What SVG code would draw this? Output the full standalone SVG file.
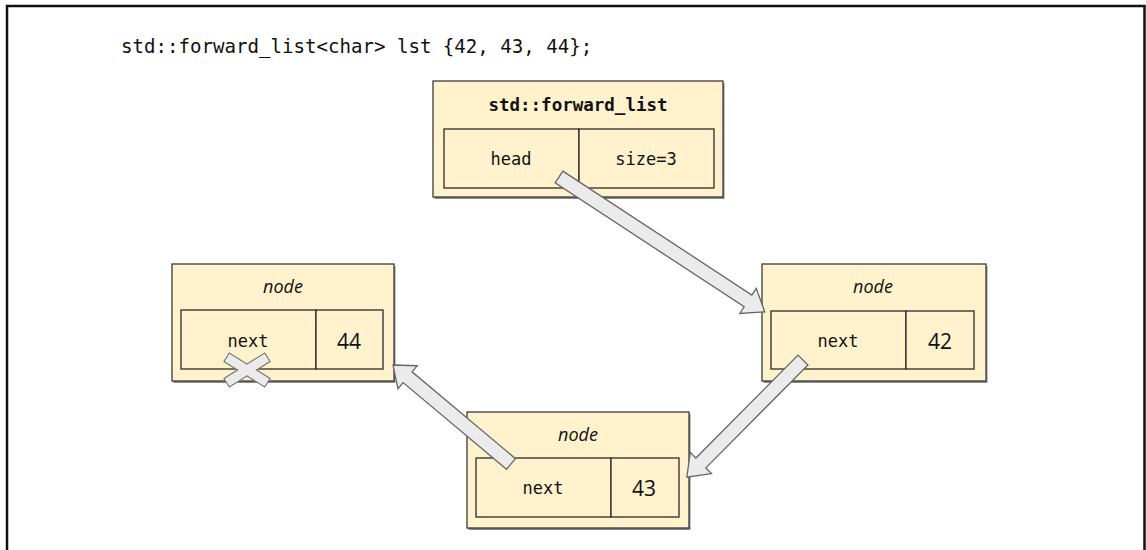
<svg xmlns="http://www.w3.org/2000/svg" width="1146" height="550" viewBox="0 0 1146 550">
<style>
.box{fill:#fff2cc;stroke:#3a3a3a;stroke-width:1.3}
.shadow{fill:#8a8a8a;stroke:none}
.cell{fill:#fff2cc;stroke:#2a2a2a;stroke-width:1.3}
.mono{font-family:"DejaVu Sans Mono","Liberation Mono",monospace;font-size:17px;fill:#111;text-anchor:middle}
.title{font-family:"DejaVu Sans Mono","Liberation Mono",monospace;font-size:17.5px;font-weight:bold;fill:#111;text-anchor:middle}
.ital{font-family:"Open Sans","Noto Sans",sans-serif;font-style:italic;font-size:18px;fill:#111;text-anchor:middle}
.num{font-family:"Open Sans","Noto Sans",sans-serif;font-size:21px;fill:#111;text-anchor:middle}
.arrow{fill:#ebebeb;stroke:#666;stroke-width:1.3;stroke-linejoin:miter}
.xbar{fill:#ebebeb;stroke:#777;stroke-width:1.3}
.xfill{fill:#ebebeb;stroke:none}
</style>
<rect x="0" y="0" width="1146" height="550" fill="#fff"/>
<path d="M7,550 V6 H1144.5 V550" fill="none" stroke="#111" stroke-width="2.5"/>
<text x="121" y="53" font-family="DejaVu Sans Mono,Liberation Mono,monospace" font-size="19.1" fill="#111">std::forward_list&lt;char&gt; lst {42, 43, 44};</text>

<g id="forward_list">
<rect class="shadow" x="434.5" y="83" width="290" height="116"/>
<rect class="box" x="433" y="81" width="290" height="116"/>
<rect class="cell" x="444" y="129" width="135" height="59"/>
<rect class="cell" x="579" y="129" width="135" height="59"/>
<text class="title" x="578" y="111">std::forward_list</text>
<text class="mono" x="511" y="165">head</text>
<text class="mono" x="646" y="165">size=3</text>
</g>

<g id="node44">
<rect class="shadow" x="173.5" y="266" width="222" height="117"/>
<rect class="box" x="172" y="264" width="222" height="117"/>
<rect class="cell" x="181" y="310" width="135" height="59"/>
<rect class="cell" x="316" y="310" width="67" height="59"/>
<text class="ital" x="283" y="293">node</text>
<text class="mono" x="248" y="347">next</text>
<text class="num" x="349" y="349">44</text>
</g>

<g id="node42">
<rect class="shadow" x="763.5" y="266" width="224" height="117"/>
<rect class="box" x="762" y="264" width="224" height="117"/>
<rect class="cell" x="771" y="311" width="135" height="58"/>
<rect class="cell" x="906" y="311" width="68" height="58"/>
<text class="ital" x="873" y="293">node</text>
<text class="mono" x="838" y="347">next</text>
<text class="num" x="940" y="349">42</text>
</g>

<g id="node43">
<rect class="shadow" x="468.5" y="414" width="222" height="116"/>
<rect class="box" x="467" y="412" width="222" height="116"/>
<rect class="cell" x="476" y="458" width="135" height="59"/>
<rect class="cell" x="611" y="458" width="68" height="59"/>
<text class="ital" x="578" y="441">node</text>
<text class="mono" x="543" y="494">next</text>
<text class="num" x="644" y="496">43</text>
</g>

<g id="connectors">
<polygon class="arrow" transform="translate(559,177) rotate(33.24)" points="0,-7 226,-7 226,-15 246,0 226,15 226,7 0,7"/>
<polygon class="arrow" transform="translate(803,360) rotate(134.76)" points="0,-7 145,-7 145,-15 165,0 145,15 145,7 0,7"/>
<polygon class="arrow" transform="translate(511,464) rotate(-140)" points="0,-7 135,-7 135,-15 154,0 135,15 135,7 0,7"/>
</g>

<g id="null-cross" transform="translate(247,370)">
<rect class="xbar" x="-24" y="-5" width="48" height="10" transform="rotate(32)"/>
<rect class="xbar" x="-24" y="-5" width="48" height="10" transform="rotate(-32)"/>
<rect class="xfill" x="-23.3" y="-4.3" width="46.6" height="8.6" transform="rotate(32)"/>
<rect class="xfill" x="-23.3" y="-4.3" width="46.6" height="8.6" transform="rotate(-32)"/>
</g>
</svg>
